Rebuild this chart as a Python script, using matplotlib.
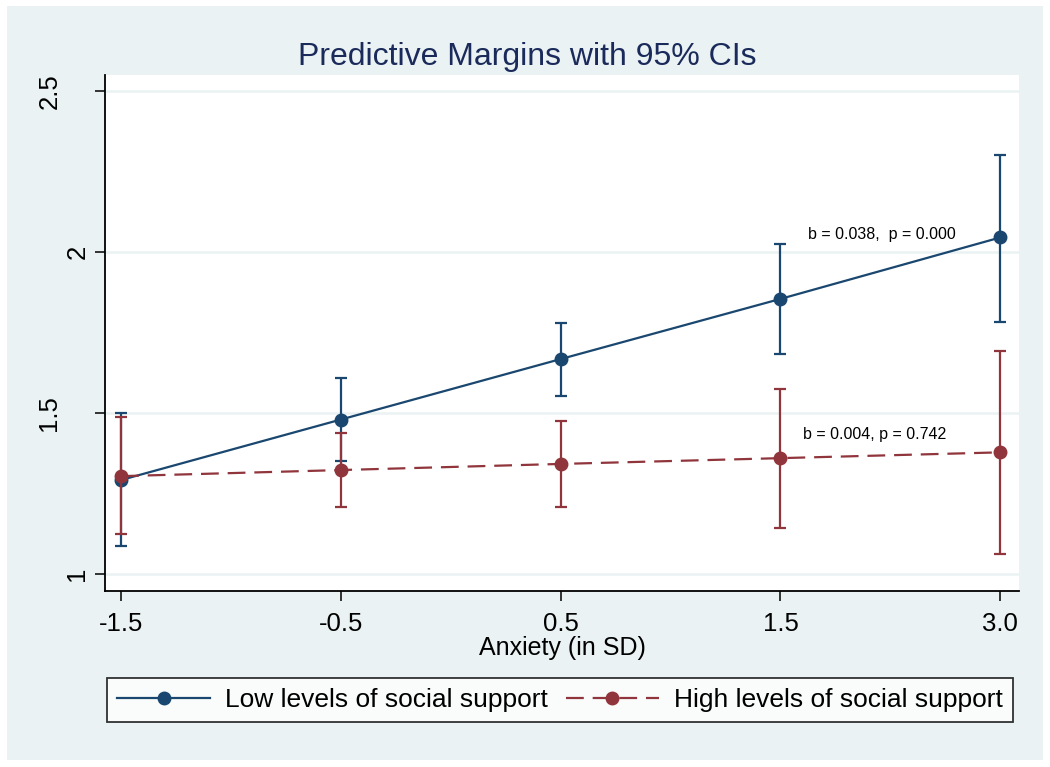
import matplotlib
matplotlib.use("Agg")
import matplotlib.pyplot as plt
from matplotlib.patches import Rectangle

plt.rcParams['font.family'] = ['Liberation Sans', 'DejaVu Sans']

# ---- data ----
x_labels = ["-1.5", "-0.5", "0.5", "1.5", "3.0"]
low_margin = [1.292, 1.480, 1.668, 1.855, 2.046]
low_lo = [1.087, 1.350, 1.554, 1.683, 1.784]
low_hi = [1.499, 1.609, 1.780, 2.027, 2.303]
high_margin = [1.304, 1.323, 1.342, 1.360, 1.378]
high_lo = [1.123, 1.207, 1.207, 1.142, 1.061]
high_hi = [1.487, 1.437, 1.475, 1.575, 1.693]
y_ticks = [1, 1.5, 2, 2.5]
y_tick_labels = ["1", "1.5", "2", "2.5"]
series_names = ["Low levels of social support", "High levels of social support"]
annotations = [("b = 0.038,  p = 0.000", 3.127, 2.054),
               ("b = 0.004, p = 0.742", 3.104, 1.432)]

NAVY = "#1A476F"
MAROON = "#90353B"
BG = "#EAF2F3"

W, H = 1050, 767
fig = plt.figure(figsize=(W / 100, H / 100), dpi=100)
fig.patch.set_facecolor("white")
fig.patches.append(Rectangle((7 / W, 1 - 760 / H), (1043 - 7) / W, (760 - 6) / H,
                             transform=fig.transFigure, facecolor=BG,
                             edgecolor="none", zorder=-10))

AX_L, AX_R, AX_T, AX_B = 105, 1019, 75, 591
ax = fig.add_axes([AX_L / W, 1 - AX_B / H, (AX_R - AX_L) / W, (AX_B - AX_T) / H])
ax.set_facecolor("white")

xs = list(range(len(x_labels)))

def draw(series, lo, hi, color, dashes, label, z):
    yerr = [[m - l for m, l in zip(series, lo)], [h - m for m, h in zip(series, hi)]]
    ax.errorbar(xs, series, yerr=yerr, fmt="none", ecolor=color, elinewidth=1.6,
                capsize=4, capthick=1.6, zorder=z)
    kw = dict(color=color, lw=1.6, marker="o", markersize=9, zorder=z + 0.5,
              label=label)
    if dashes:
        kw["dashes"] = dashes
    ax.plot(xs, series, **kw)

draw(low_margin, low_lo, low_hi, NAVY, None, series_names[0], 3)
draw(high_margin, high_lo, high_hi, MAROON, (8, 4), series_names[1], 5)

ax.set_xlim(-0.073, 4.085)
ax.set_ylim(0.947, 2.551)
ax.set_xticks(xs)
ax.set_xticklabels(x_labels)
ax.set_yticks(y_ticks)
ax.set_yticklabels(y_tick_labels, rotation=90, va="center")

ax.grid(axis="y", color=BG, lw=1.8)
ax.set_axisbelow(True)
for s in ["top", "right"]:
    ax.spines[s].set_visible(False)
for s in ["left", "bottom"]:
    ax.spines[s].set_linewidth(1.3)
    ax.spines[s].set_color("#000000")

ax.tick_params(axis="x", length=7, width=1.1, labelsize=18.5, pad=8)
ax.tick_params(axis="y", length=7, width=1.1, labelsize=18.5, pad=24.5)

# Stata-like placement: single-character labels sit closer to the axis
for lab in ax.get_yticklabels():
    if len(lab.get_text()) == 1:
        lab.set_x(28 / (AX_R - AX_L))

ax.set_xlabel("Anxiety (in SD)", fontsize=18, labelpad=0)

for txt, tx, ty in annotations:
    ax.text(tx, ty, txt, fontsize=11.5, va="center", ha="left", color="black")

fig.text(527 / W, 1 - 65 / H, "Predictive Margins with 95% CIs", fontsize=23,
         color="#1A2A5A", ha="center", va="baseline")

leg = ax.legend(loc="center", bbox_to_anchor=((560 - AX_L) / (AX_R - AX_L), (AX_B - 700) / (AX_B - AX_T)),
                ncol=2, fontsize=19, frameon=True, fancybox=False, edgecolor="black",
                handlelength=3.5, handletextpad=0.57, columnspacing=0.7,
                borderpad=0.38, borderaxespad=0)
leg.get_frame().set_linewidth(1.3)
leg.get_frame().set_facecolor("white")

fig.savefig("out.png", dpi=100, facecolor=fig.get_facecolor())
